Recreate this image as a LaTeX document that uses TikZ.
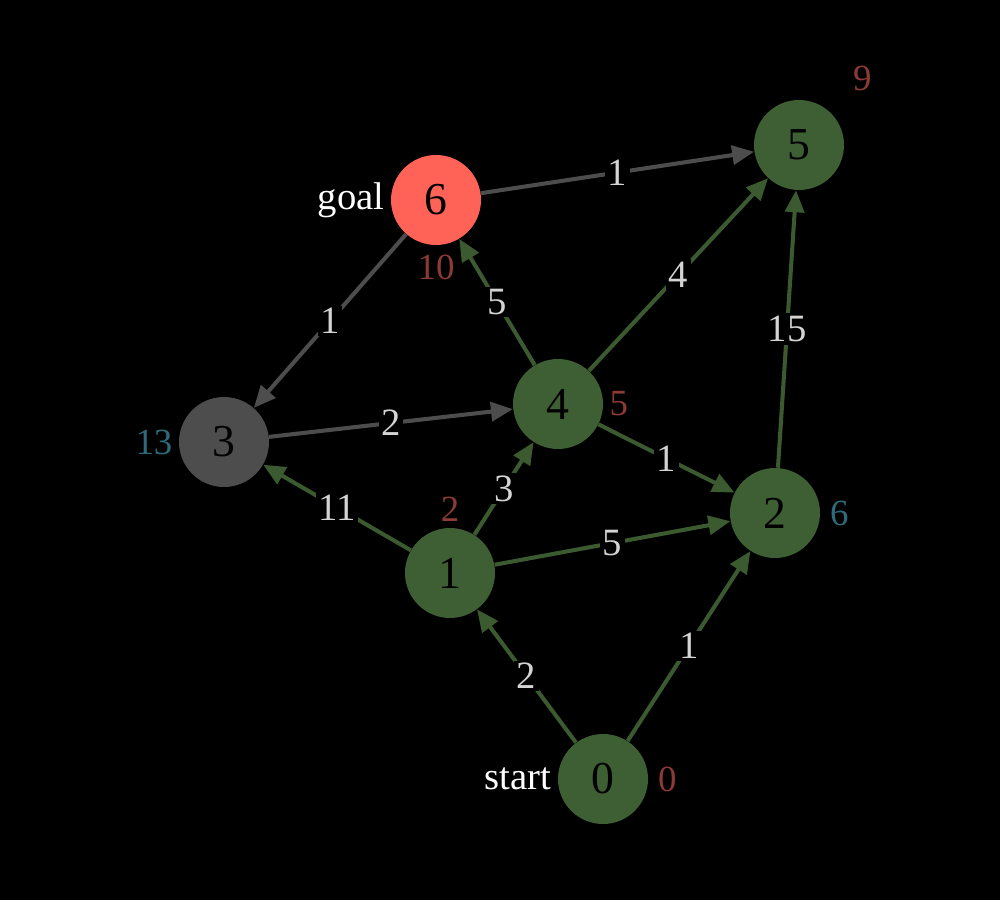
\documentclass[tikz,border=0pt]{standalone}
\usepackage{fontspec}
\setmainfont{Liberation Serif}
\usepackage{tikz}
\usetikzlibrary{arrows.meta}
\definecolor{nodegreen}{RGB}{62,94,51}
\definecolor{edgegreen}{RGB}{60,90,48}
\definecolor{nodegray}{RGB}{77,77,77}
\definecolor{goalred}{RGB}{255,99,88}
\definecolor{costred}{RGB}{139,58,52}
\definecolor{heurteal}{RGB}{46,106,122}
\definecolor{wtgray}{RGB}{212,212,212}

\begin{document}
\begin{tikzpicture}[
    vtx/.style={circle,fill=nodegreen,text=black,minimum size=1.8cm,inner sep=0pt,font=\fontsize{26}{26}\selectfont},
    wt/.style={fill=black,text=wtgray,inner sep=1.5pt,font=\fontsize{22}{22}\selectfont},
    cost/.style={text=costred,font=\fontsize{21}{21}\selectfont},
    heur/.style={text=heurteal,font=\fontsize{21}{21}\selectfont},
    tag/.style={text=white,font=\fontsize{22}{22}\selectfont},
    gedge/.style={draw=edgegreen,line width=2.3pt,-{Triangle[length=0.44cm,width=0.38cm]}},
    kedge/.style={draw=nodegray,line width=2.3pt,-{Triangle[length=0.44cm,width=0.38cm]}}]
   \fill[black] (0,0) rectangle (20,18);

   \draw (12.06,2.42) node[vtx,label={[cost,label distance=2pt]right:0},label={[tag]left:start}] (v0) {0};
   \draw (9.0,6.54) node[vtx,label={[cost]above:2}] (v1) {1};
   \draw (15.5,7.74) node[vtx,label={[heur,label distance=2pt]right:6}] (v2) {2};
   \draw (4.48,9.16) node[vtx,fill=nodegray,label={[heur]left:13}] (v3) {3};
   \draw (11.16,9.92) node[vtx,label={[cost]right:5}] (v4) {4};
   \draw (15.98,15.1) node[vtx,label={[cost,label distance=0.45cm]45:9}] (v5) {5};
   \draw (8.72,14.0) node[vtx,fill=goalred,label={[cost,label distance=2pt]below:10},label={[tag]left:goal}] (v6) {6};

       \path (v6) edge[kedge] node[wt] {1} (v5);
       \path (v6) edge[kedge] node[wt] {1} (v3);
       \path (v3) edge[kedge] node[wt] {2} (v4);
       \path (v4) edge[gedge] node[wt] {5} (v6);
       \path (v4) edge[gedge] node[wt] {4} (v5);
       \path (v4) edge[gedge] node[wt] {1} (v2);
       \path (v2) edge[gedge] node[wt] {15} (v5);
       \path (v1) edge[gedge] node[wt] {11} (v3);
       \path (v1) edge[gedge] node[wt] {3} (v4);
       \path (v1) edge[gedge] node[wt] {5} (v2);
       \path (v0) edge[gedge] node[wt] {2} (v1);
       \path (v0) edge[gedge] node[wt] {1} (v2);

\end{tikzpicture}
\end{document}
